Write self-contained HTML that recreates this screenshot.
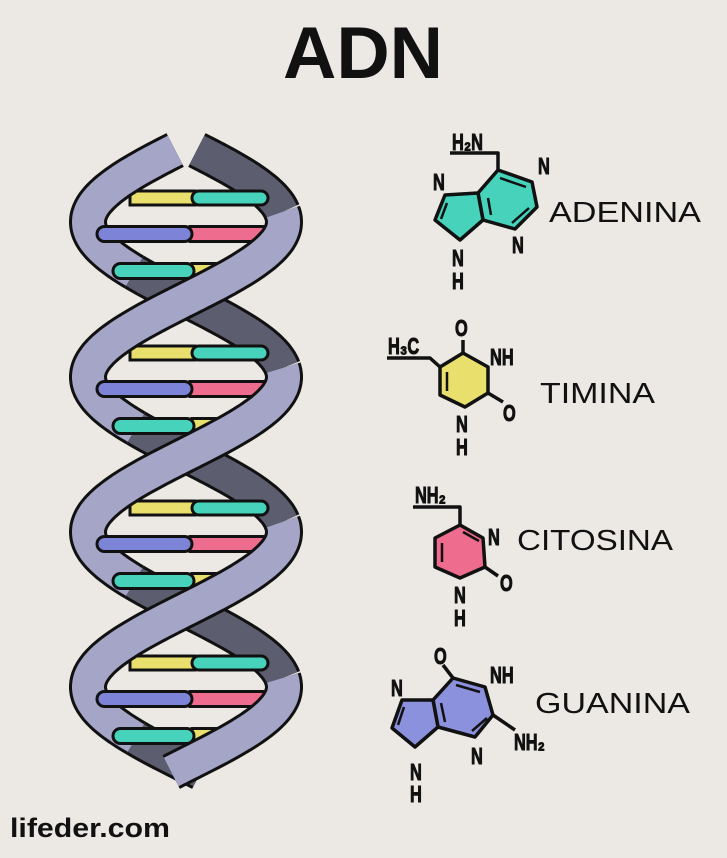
<!DOCTYPE html>
<html><head><meta charset="utf-8"><style>
html,body{margin:0;padding:0;background:#ece9e5;}
svg{display:block}
.c{font-family:"Liberation Sans",sans-serif;font-weight:bold;font-size:21px;fill:#111;stroke:#111;stroke-width:0.9}
.n{font-family:"Liberation Sans",sans-serif;font-size:29px;fill:#111}
</style></head><body>
<svg id="s" width="727" height="858" viewBox="0 0 727 858" xmlns="http://www.w3.org/2000/svg">
<rect width="727" height="858" fill="#ece9e5"/>
<g id="dark"></g>
<g id="rungs" stroke="#111" stroke-width="3"></g>
<g id="light"></g>
<g id="rungs2" stroke="#111" stroke-width="3"></g>
<text x="283" y="78" font-family="Liberation Sans,sans-serif" font-weight="bold" font-size="73" fill="#111" textLength="160" lengthAdjust="spacingAndGlyphs">ADN</text>
<text x="10" y="837" font-family="Liberation Sans,sans-serif" font-weight="bold" font-size="27" fill="#111" textLength="160" lengthAdjust="spacingAndGlyphs">lifeder.com</text>

<!-- Adenina -->
<g stroke="#111" stroke-width="3.5" stroke-linejoin="round">
<polygon points="498,170 532,182 537,207 515,229 483,220 478,193" fill="#47d2bc"/>
<polygon points="478,193 445,195 435,220 460,240 483,220" fill="#47d2bc"/>
<polyline points="450,153 498,153 498,170" fill="none"/>
<line x1="500" y1="178" x2="526" y2="187" stroke-width="2.5"/>
<line x1="488" y1="198" x2="491" y2="215" stroke-width="2.5"/>
<line x1="447" y1="203" x2="441" y2="219" stroke-width="2.5"/>
<line x1="529" y1="208" x2="512" y2="223" stroke-width="2.5"/>
</g>
<text class="c" x="452" y="150">H₂N</text>
<text class="c" x="433" y="190">N</text>
<text class="c" x="538" y="174">N</text>
<text class="c" x="512" y="253">N</text>
<text class="c" x="452" y="266">N</text>
<text class="c" x="452" y="289">H</text>
<text class="n" x="549" y="222" textLength="152" lengthAdjust="spacingAndGlyphs">ADENINA</text>

<!-- Timina -->
<g stroke="#111" stroke-width="3.5" stroke-linejoin="round">
<polygon points="463,353 488,367 488,393 465,407 440,395 440,367" fill="#e8df6c"/>
<polyline points="387,358 430,358 440,367" fill="none"/>
<line x1="463" y1="353" x2="463" y2="340"/>
<line x1="488" y1="393" x2="503" y2="402"/>
<line x1="447" y1="372" x2="447" y2="391" stroke-width="2.5"/>
</g>
<text class="c" x="455" y="336">O</text>
<text class="c" x="490" y="365">NH</text>
<text class="c" x="503" y="421">O</text>
<text class="c" x="456" y="432">N</text>
<text class="c" x="456" y="455">H</text>
<text class="c" x="388" y="354">H₃C</text>
<text class="n" x="540" y="403" textLength="115" lengthAdjust="spacingAndGlyphs">TIMINA</text>

<!-- Citosina -->
<g stroke="#111" stroke-width="3.5" stroke-linejoin="round">
<polygon points="460,525 483,538 485,567 460,578 435,567 435,538" fill="#ee6d8e"/>
<polyline points="413,507 460,507 460,525" fill="none"/>
<line x1="485" y1="567" x2="498" y2="576"/>
<line x1="442" y1="543" x2="442" y2="562" stroke-width="2.5"/>
<line x1="463" y1="532" x2="479" y2="541" stroke-width="2.5"/>
</g>
<text class="c" x="415" y="503">NH₂</text>
<text class="c" x="488" y="545">N</text>
<text class="c" x="500" y="591">O</text>
<text class="c" x="454" y="603">N</text>
<text class="c" x="454" y="626">H</text>
<text class="n" x="517" y="550" textLength="156" lengthAdjust="spacingAndGlyphs">CITOSINA</text>

<!-- Guanina -->
<g stroke="#111" stroke-width="3.5" stroke-linejoin="round">
<polygon points="453,678 485,687 493,715 475,737 438,727 433,700" fill="#8c91dd"/>
<polygon points="433,700 402,700 392,728 415,747 438,727" fill="#8c91dd"/>
<line x1="453" y1="678" x2="443" y2="665"/>
<line x1="493" y1="715" x2="515" y2="730"/>
<line x1="456" y1="685" x2="480" y2="692" stroke-width="2.5"/>
<line x1="441" y1="703" x2="445" y2="722" stroke-width="2.5"/>
<line x1="404" y1="707" x2="398" y2="725" stroke-width="2.5"/>
<line x1="487" y1="718" x2="472" y2="731" stroke-width="2.5"/>
</g>
<text class="c" x="434" y="664">O</text>
<text class="c" x="490" y="683">NH</text>
<text class="c" x="391" y="696">N</text>
<text class="c" x="514" y="750">NH₂</text>
<text class="c" x="471" y="764">N</text>
<text class="c" x="410" y="780">N</text>
<text class="c" x="410" y="802">H</text>
<text class="n" x="535" y="713" textLength="155" lengthAdjust="spacingAndGlyphs">GUANINA</text>
</svg>
<script>
(function(){
var NS="http://www.w3.org/2000/svg";
var dark=document.getElementById("dark"),light=document.getElementById("light"),rg=document.getElementById("rungs"),rg2=document.getElementById("rungs2");
function X(y,s){return 186+s*98*Math.cos(2*Math.PI*(y-222)/310);}
function addPath(g,pts,col){
  var d="M"+pts.map(function(p){return p[0].toFixed(1)+","+p[1].toFixed(1)}).join(" L");
  [["#111",38],[col,32]].forEach(function(a){
    var p=document.createElementNS(NS,"path");
    p.setAttribute("d",d);p.setAttribute("fill","none");
    p.setAttribute("stroke",a[0]);p.setAttribute("stroke-width",a[1]);
    p.setAttribute("stroke-linejoin","round");
    g.appendChild(p);
  });
}
[-1,1].forEach(function(s){
  var cur=null,curL=null,y;
  for(y=150;y<=772;y+=2){
    var p=(y-222-(s>0?155:0))%310; if(p<0)p+=310;
    var isL=!(p>=50&&p<145);
    if(curL===null||isL!==curL){
      if(cur&&cur.length>1){cur.push([X(y,s),y]);addPath(curL?light:dark,cur,curL?"#a4a5c7":"#5d5d70");}
      cur=[];curL=isL;
    }
    cur.push([X(y,s),y]);
  }
  if(cur&&cur.length>1)addPath(curL?light:dark,cur,curL?"#a4a5c7":"#5d5d70");
});
function rect(g,x1,x2,y,h,col,rl){
  var r=document.createElementNS(NS,"rect");
  r.setAttribute("x",x1);r.setAttribute("y",y-h/2);r.setAttribute("width",x2-x1);r.setAttribute("height",h);
  r.setAttribute("fill",col);r.setAttribute("rx",rl?h/2:0);
  g.appendChild(r);
}
for(var k=0;k<4;k++){
  var o=k*155;
  rect(rg,130,195,198+o,14,"#e8df6c");
  rect(rg,192,268,198+o,14,"#47d2bc",1);
  rect(rg,190,285,234+o,15,"#ee6d8e");
  rect(rg2,97,192,234+o,15,"#7d84d8",1);
  rect(rg,192,250,271+o,15,"#e8df6c");
  rect(rg2,113,194,271+o,15,"#47d2bc",1);
}
var cs=document.querySelectorAll("text.c");
for(var i=0;i<cs.length;i++){
  var t=cs[i],x=+t.getAttribute("x"),y=+t.getAttribute("y");
  t.setAttribute("transform","translate("+x+","+y+") scale(0.78,1.12) translate("+(-x)+","+(-y)+")");
}
})();
</script>
</body></html>
